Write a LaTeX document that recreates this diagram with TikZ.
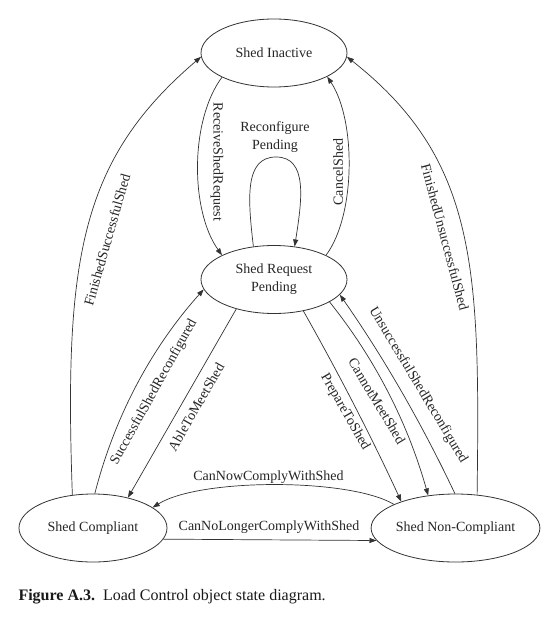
\documentclass[tikz,border=0pt]{standalone}
\usepackage{fontspec}
\setmainfont{Liberation Serif}
\usetikzlibrary{arrows.meta,shapes.geometric}
\begin{document}
\begin{tikzpicture}[x=1pt,y=-1pt,
  state/.style={draw=black!80, line width=0.8pt, ellipse, inner sep=0pt,
    minimum width=146pt, minimum height=68pt,
    font=\fontsize{14}{18}\selectfont, align=center, text=black!85},
  conn/.style={draw=black!80, line width=0.7pt, -{Triangle[length=7pt,width=5pt]}},
  lbl/.style={font=\fontsize{14}{18}\selectfont, text=black!85, inner sep=0pt}]
\useasboundingbox[fill=white] (0,0) rectangle (543,636);

\node[state] (si) at (274,53) {Shed Inactive};
\node[state] (srp) at (274,279.5) {Shed Request\\Pending};
\node[state, minimum width=148pt] (sc) at (93,528) {Shed Compliant};
\node[state, minimum width=148pt] (snc) at (455.5,528) {Shed Non-Compliant};

\draw[conn] (si.205) .. controls (190,120) and (190,210) .. (srp.155);
\draw[conn] (srp.25) .. controls (356,215) and (356,120) .. (si.-24);
\draw[conn] (srp.122) .. controls (248,200) and (244,157) .. (276,157)
  .. controls (308,157) and (302,200) .. (srp.58);
\draw[conn] (sc.122) .. controls (64,260) and (80,160) .. (si.183);
\draw[conn] (snc.57) .. controls (480,270) and (478,160) .. (si.-3);
\draw[conn] (sc.87) .. controls (114.5,417) and (150.5,349) .. (srp.188);
\draw[conn] (srp.218) -- (sc.41);
\draw[conn] (srp.-47) .. controls (339,374) and (372,438) .. (snc.154);
\draw[conn] (srp.-22) .. controls (376,360) and (408,424) .. (snc.130);
\draw[conn] (snc.91) .. controls (422,424) and (384,358) .. (srp.-13);
\draw[conn] (snc.159) .. controls (350,478) and (200,478) .. (sc.19);
\draw[conn] (sc.-9) -- (snc.189);

\node[lbl, rotate=-90] (l1) at (217,162) {ReceiveShedRequest};
\node[lbl, rotate=90] (l2) at (338,172) {CancelShed};
\node[lbl, align=center] (l3) at (275,137) {Reconfigure\\Pending};
\node[lbl, rotate=74] (l4) at (107,240) {FinishedSuccessfulShed};
\node[lbl, rotate=-75] (l5) at (445,237) {FinishedUnsuccessfulShed};
\node[lbl, rotate=61] (l6) at (154,392) {SuccessfulShedReconfigured};
\node[lbl, rotate=60] (l7) at (196,407) {AbleToMeetShed};
\node[lbl, rotate=-60] (l8) at (345,412) {PrepareToShed};
\node[lbl, rotate=-59] (l9) at (377,401) {CannotMeetShed};
\node[lbl, rotate=-59] (l10) at (418,385) {UnsuccessfulShedReconfigured};
\node[lbl] (l11) at (268.5,477) {CanNowComplyWithShed};
\node[lbl] (l12) at (269,527) {CanNoLongerComplyWithShed};

\node[anchor=base west, inner sep=0pt, font=\fontsize{16}{19}\selectfont, text=black!90] (cap) at (18.3,600)
  {\textbf{Figure A.3.}\ \ Load Control object state diagram.};
\end{tikzpicture}
\end{document}
